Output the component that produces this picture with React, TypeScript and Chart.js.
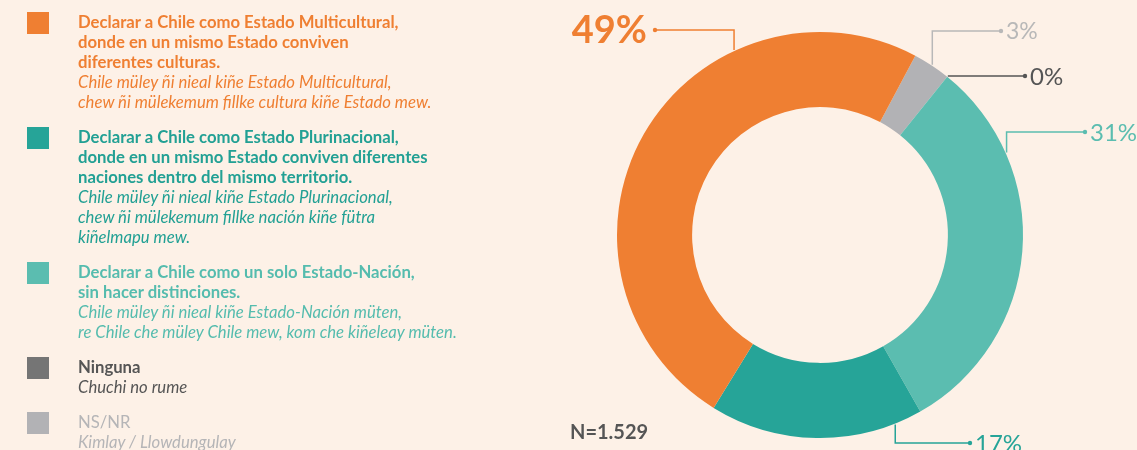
import React, { useEffect, useRef } from "react";
import { Chart, registerables } from "chart.js";

Chart.register(...registerables);

// Legend order
const categories = [
  "Multicultural",
  "Plurinacional",
  "Estado-Nación",
  "Ninguna",
  "NS/NR",
];
const values = [49, 17, 31, 0, 3];
const valueLabels = ["49%", "17%", "31%", "0%", "3%"];
const colors = ["#ef7f32", "#26a498", "#5bbdb0", "#757575", "#b2b2b5"];
const textColors = ["#ef7f32", "#22a094", "#55bcae", "#555555", "#b5b5b7"];
const labelColors = ["#ef7f32", "#26a498", "#5bbdb0", "#555555", "#b8b8b8"];

const spanishLines = [
  ["Declarar a Chile como Estado Multicultural,", "donde en un mismo Estado conviven", "diferentes culturas."],
  ["Declarar a Chile como Estado Plurinacional,", "donde en un mismo Estado conviven diferentes", "naciones dentro del mismo territorio."],
  ["Declarar a Chile como un solo Estado-Nación,", "sin hacer distinciones."],
  ["Ninguna"],
  ["NS/NR"],
];
const mapudungunLines = [
  ["Chile müley ñi nieal kiñe Estado Multicultural,", "chew ñi mülekemum fillke cultura kiñe Estado mew."],
  ["Chile müley ñi nieal kiñe Estado Plurinacional,", "chew ñi mülekemum fillke nación kiñe fütra", "kiñelmapu mew."],
  ["Chile müley ñi nieal kiñe Estado-Nación müten,", "re Chile che müley Chile mew, kom che kiñeleay müten."],
  ["Chuchi no rume"],
  ["Kimlay / Llowdungulay"],
];
const sampleSize = "N=1.529";

// Callout settings (legend order): position within arc, elbow and dot offsets from the centre
const calloutFrac = [0.7, 0.13, 0.245, 0, 0.5];
const calloutY = [-205, 208, -103, null, -204];
const calloutDotX = [-165, 150, 265, 205, 181];
const calloutFont = [
  "bold 38px Lato",
  "24px Lato",
  "24px Lato",
  "24px Lato",
  "23px Lato",
];

const BG = "#fdf1e7";

function drawCallouts(chart: any, arcs: any[]) {
  const ctx = chart.ctx;
  const n = values.length;
  ctx.save();
  let cx = 0;
  let cy = 0;
  for (let i = 0; i < n; i++) {
    const arc: any = arcs[i];
    if (!arc) continue;
    const { x, y, startAngle, endAngle, outerRadius } = arc.getProps(
      ["x", "y", "startAngle", "endAngle", "outerRadius"],
      true
    );
    cx = x;
    cy = y;
    const a = startAngle + calloutFrac[i] * (endAngle - startAngle);
    const px = x + Math.cos(a) * (outerRadius + 1);
    const py = y + Math.sin(a) * (outerRadius + 1);
    const ly = calloutY[i] === null ? py : y + (calloutY[i] as number);
    const dx = x + calloutDotX[i];
    ctx.strokeStyle = labelColors[i];
    ctx.fillStyle = labelColors[i];
    ctx.lineWidth = 1.5;
    ctx.beginPath();
    ctx.moveTo(px, py);
    ctx.lineTo(px, ly);
    ctx.lineTo(dx, ly);
    ctx.stroke();
    ctx.beginPath();
    ctx.arc(dx, ly, 2.2, 0, Math.PI * 2);
    ctx.fill();
    ctx.font = calloutFont[i];
    ctx.textBaseline = "middle";
    const left = dx < x;
    ctx.textAlign = left ? "right" : "left";
    ctx.fillText(valueLabels[i], left ? dx - 8 : dx + 5, ly + 1);
  }
  // sample size
  ctx.font = "bold 20px Lato";
  ctx.fillStyle = "#555555";
  ctx.textAlign = "left";
  ctx.textBaseline = "middle";
  ctx.fillText(sampleSize, cx - 250, cy + 198);
  ctx.restore();
}

export default function App() {
  const ref = useRef<HTMLCanvasElement | null>(null);

  useEffect(() => {
    if (!ref.current) return;
    // clockwise drawing order is the reverse of the legend order
    const order = [4, 3, 2, 1, 0];
    const chart = new Chart(ref.current, {
      type: "doughnut",
      data: {
        labels: order.map((i) => categories[i]),
        datasets: [
          {
            data: order.map((i) => values[i]),
            backgroundColor: order.map((i) => colors[i]),
            borderWidth: 0,
          },
        ],
      },
      options: {
        responsive: false,
        animation: false,
        cutout: "63%",
        rotation: 28,
        layout: { padding: { left: 617, top: 32, right: 114, bottom: 12 } },
        plugins: {
          legend: { display: false },
          tooltip: { enabled: false },
        },
      },
      plugins: [
        {
          id: "callouts",
          afterDatasetsDraw(c: any) {
            const meta = c.getDatasetMeta(0);
            const mapped: any[] = [];
            order.forEach((li, di) => (mapped[li] = meta.data[di]));
            drawCallouts(c, mapped);
          },
        },
      ],
    });
    return () => chart.destroy();
  }, []);

  return (
    <div
      style={{
        position: "absolute",
        left: 0,
        top: 0,
        width: 1137,
        height: 450,
        background: BG,
        overflow: "hidden",
        fontFamily: "Lato, 'Noto Sans', sans-serif",
      }}
    >
      <canvas
        ref={ref}
        width={1137}
        height={450}
        style={{ position: "absolute", left: 0, top: 0 }}
      />
      <div style={{ position: "absolute", left: 27, top: 12, width: 520 }}>
        {categories.map((c, i) => (
          <div
            key={c}
            style={{ position: "relative", marginBottom: 15, paddingLeft: 51 }}
          >
            <div
              style={{
                position: "absolute",
                left: 0,
                top: 0,
                width: 22,
                height: 22,
                background: colors[i],
              }}
            />
            <div
              style={{
                fontSize: 16.7,
                lineHeight: "20px",
                color: textColors[i],
                whiteSpace: "nowrap",
              }}
            >
              {spanishLines[i].map((l, k) => (
                <div key={"s" + k} style={{ fontWeight: i === 4 ? 400 : 700 }}>
                  {l}
                </div>
              ))}
              {mapudungunLines[i].map((l, k) => (
                <div key={"m" + k} style={{ fontStyle: "italic" }}>
                  {l}
                </div>
              ))}
            </div>
          </div>
        ))}
      </div>
    </div>
  );
}
